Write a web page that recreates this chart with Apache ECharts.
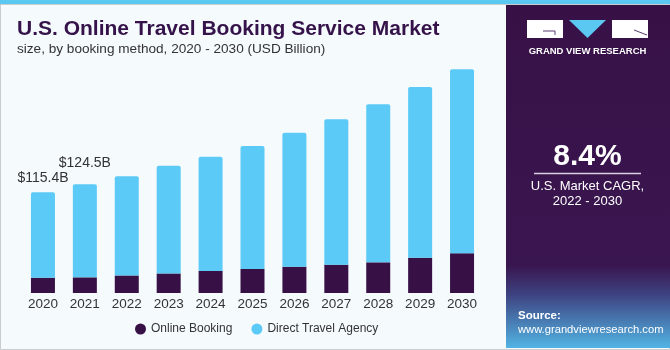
<!DOCTYPE html>
<html>
<head>
<meta charset="utf-8">
<script src="https://cdn.jsdelivr.net/npm/echarts@6/dist/echarts.min.js"></script>
<style>html,body{margin:0;padding:0;background:#f5fafd;}#c{width:670px;height:350px;}</style>
</head>
<body>
<div id="c"></div>
<script>
var years = ['2020','2021','2022','2023','2024','2025','2026','2027','2028','2029','2030'];
var onlineBooking = [17.5, 17.9, 20.1, 22.4, 25.2, 27.5, 30.1, 32.4, 35.1, 40.4, 45.4];
var directTravelAgency = [97.9, 106.6, 113.5, 123.3, 130.8, 140.7, 153.3, 166.6, 181.1, 195.6, 210.9];
var valueLabels = ['$115.4B', '$124.5B'];

var chart = echarts.init(document.getElementById('c'), null, {renderer: 'canvas'});
var FONT = '"Liberation Sans", Arial, sans-serif';

var directData = directTravelAgency.map(function (v, i) {
  if (i < valueLabels.length) {
    return {
      value: v,
      label: {
        show: true, position: 'top', distance: i === 0 ? 7 : 14,
        formatter: valueLabels[i], color: '#333', fontSize: 14, fontFamily: FONT
      }
    };
  }
  return v;
});

var option = {
  backgroundColor: '#f5fafd',
  animation: false,
  title: [{
    text: 'U.S. Online Travel Booking Service Market',
    left: 12, top: 14,
    textStyle: {color: '#35134a', fontSize: 21, fontWeight: 'bold', fontFamily: FONT}
  }, {
    text: 'size, by booking method, 2020 - 2030 (USD Billion)',
    left: 12, top: 37,
    textStyle: {color: '#333', fontSize: 13.6, fontWeight: 'normal', fontFamily: FONT}
  }],
  grid: {left: 22, right: 187, top: 31, bottom: 57},
  legend: {
    left: 130, top: 318,
    icon: 'circle', itemWidth: 11, itemHeight: 11, itemGap: 19,
    textStyle: {color: '#333', fontSize: 12, fontFamily: FONT},
    data: ['Online Booking', 'Direct Travel Agency']
  },
  xAxis: {
    type: 'category', data: years,
    axisLine: {show: false}, axisTick: {show: false},
    axisLabel: {color: '#333', fontSize: 13.5, margin: 4, fontFamily: FONT}
  },
  yAxis: {
    type: 'value', min: 0, max: 300, show: false, splitLine: {show: false}
  },
  series: [{
    name: 'Online Booking', type: 'bar', stack: 'a', barWidth: 24,
    itemStyle: {color: '#371146'},
    data: onlineBooking
  }, {
    name: 'Direct Travel Agency', type: 'bar', stack: 'a', barWidth: 24,
    itemStyle: {color: '#5bcaf6', borderRadius: [2, 2, 0, 0]},
    data: directData
  }],
  graphic: [
    {type: 'rect', shape: {x: 0, y: 0, width: 670, height: 5}, style: {fill: '#5bc8f2'}, z: 10},
    {type: 'rect', shape: {x: 0.5, y: 4.5, width: 669, height: 345}, style: {fill: 'none', stroke: '#c9cdd0', lineWidth: 1}, z: 10},
    {type: 'rect', shape: {x: 506, y: 5, width: 164, height: 343},
      style: {fill: new echarts.graphic.LinearGradient(0, 0, 0, 1, [
        {offset: 0, color: '#371146'}, {offset: 0.76, color: '#3a1650'},
        {offset: 0.84, color: '#3d3f7e'}, {offset: 1, color: '#52b4e4'}])}, z: 10},
    {type: 'rect', shape: {x: 527, y: 20, width: 36, height: 18}, style: {fill: '#ffffff'}, z: 11},
    {type: 'polyline', shape: {points: [[543, 31], [555, 31], [555, 35]]}, style: {stroke: '#5b3a70', lineWidth: 1, fill: 'none'}, z: 12},
    {type: 'polygon', shape: {points: [[569, 20], [606, 20], [587.5, 38]]}, style: {fill: '#5bc8f2'}, z: 11},
    {type: 'rect', shape: {x: 612, y: 20, width: 36, height: 18}, style: {fill: '#ffffff'}, z: 11},
    {type: 'line', shape: {x1: 634, y1: 30, x2: 647, y2: 35}, style: {stroke: '#5b3a70', lineWidth: 1}, z: 12},
    {type: 'text', x: 587.5, y: 51, style: {text: 'GRAND VIEW RESEARCH', fill: '#ffffff', font: 'bold 9.5px ' + FONT, align: 'center', verticalAlign: 'middle'}, z: 11},
    {type: 'text', x: 587.5, y: 157, style: {text: '8.4%', fill: '#ffffff', font: 'bold 30px ' + FONT, align: 'center', verticalAlign: 'middle'}, z: 11},
    {type: 'line', shape: {x1: 534, y1: 173.5, x2: 641, y2: 173.5}, style: {stroke: '#d8d0de', lineWidth: 1.5}, z: 11},
    {type: 'text', x: 587.5, y: 186, style: {text: 'U.S. Market CAGR,', fill: '#ffffff', font: '13px ' + FONT, align: 'center', verticalAlign: 'middle'}, z: 11},
    {type: 'text', x: 587.5, y: 201, style: {text: '2022 - 2030', fill: '#ffffff', font: '13px ' + FONT, align: 'center', verticalAlign: 'middle'}, z: 11},
    {type: 'text', x: 518, y: 316, style: {text: 'Source:', fill: '#ffffff', font: 'bold 11.5px ' + FONT, align: 'left', verticalAlign: 'middle'}, z: 11},
    {type: 'text', x: 518, y: 330, style: {text: 'www.grandviewresearch.com', fill: '#ffffff', font: '11.2px ' + FONT, align: 'left', verticalAlign: 'middle'}, z: 11}
  ]
};
chart.setOption(option);
</script>
</body>
</html>
